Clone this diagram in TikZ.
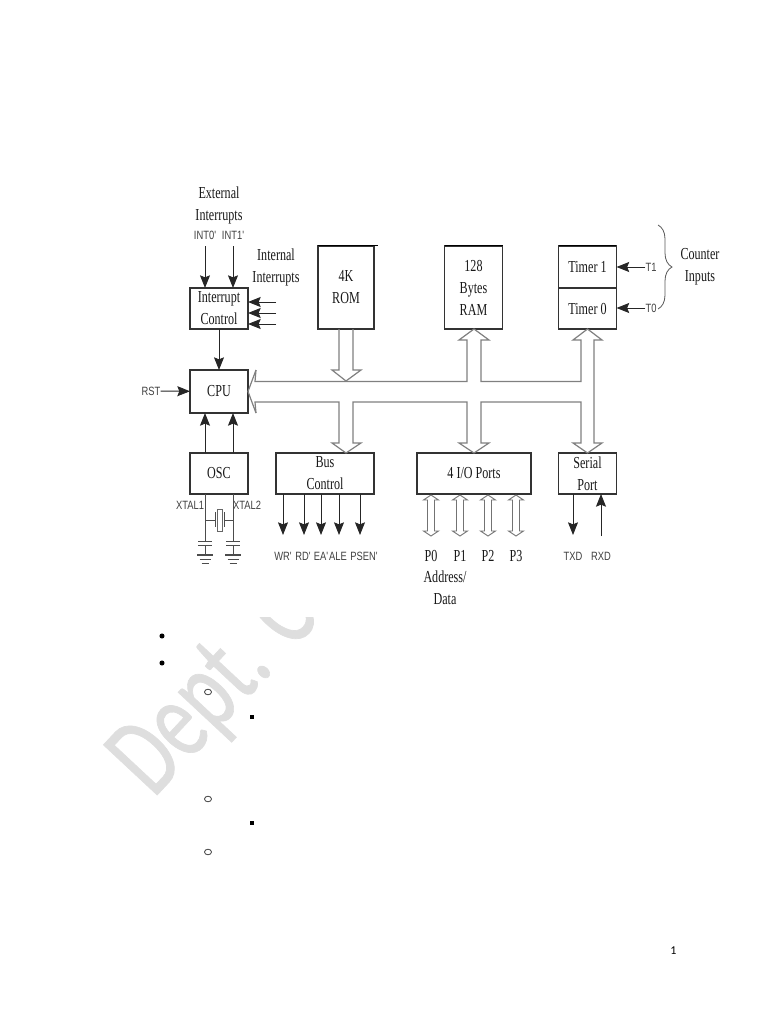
\documentclass[tikz,border=0pt]{standalone}
\usepackage{fontspec}
\setmainfont{Liberation Serif}[FakeStretch=0.72]
\newfontfamily\sigfont{Liberation Sans}[FakeStretch=0.78]
\newfontfamily\wmfont{Carlito}
\newfontfamily\markfont{Carlito}[FakeStretch=0.7,FakeBold=0.6]
\usetikzlibrary{arrows.meta,positioning,decorations.pathreplacing,calc}

\begin{document}
\begin{tikzpicture}[
  x=0.75pt, y=-0.75pt,
  block/.style={draw=black!80, line width=0.9pt, inner sep=0pt, outer sep=0pt, align=center, text=black!90,
    font=\fontsize{12.6}{16.5}\selectfont, minimum width=43.5pt},
  lbl/.style={font=\fontsize{12.6}{16.5}\selectfont, text=black!90, align=center, inner sep=0pt},
  sig/.style={font=\sigfont\fontsize{9}{10}\selectfont, text=black!75, inner sep=0pt},
  arrow/.style={-{Stealth[length=9.5pt,width=7.5pt,inset=1.5pt]}, line width=0.7pt, black!85},
  bus/.style={line width=0.9pt, black!50, line join=miter},
  port/.style={line width=0.7pt, black!55},
  elec/.style={line width=0.6pt, black!70}
]
\useasboundingbox (0,0) rectangle (768,1024);
% watermark, the diagram's white ground lies over it
\node[rotate=47, font=\markfont\fontsize{86}{90}\selectfont, text=black!13, anchor=south west, inner sep=0pt] (mark) at (167,812) {Dept. C};
\fill[white] (100,100) rectangle (700,617);
% left column
\node[block, minimum height=30.75pt] (irq) at (219,308.5) {Interrupt\\Control};
\node[block, minimum height=32.25pt, below=30.75pt of irq] (cpu) {CPU};
\node[block, minimum height=30.75pt, below=30pt of cpu] (osc) {OSC};
% memory and timers
\node[block, minimum width=42pt, minimum height=62.25pt] (rom) at (346,287.5) {4K\\ROM};
\node[block, minimum height=62.25pt] (ram) at (473.5,287.5) {128\\Bytes\\RAM};
\node[block, minimum height=31.5pt] (timer1) at (587.5,267) {Timer 1};
\node[block, minimum height=30.75pt, below=0pt of timer1] (timer0) {Timer 0};
% lower row
\node[block, minimum width=73.5pt, minimum height=30.75pt] (busctl) at (325,473.5) {Bus\\Control};
\node[block, minimum width=85.5pt, minimum height=30.75pt] (ports) at (474,473.5) {4 I/O Ports};
\node[block, minimum height=30.75pt] (serial) at (587.5,473.5) {Serial\\Port};
% heavy top edges
\draw[line width=1.2pt, black] (318,245.5) -- (378,245.5);
\draw[line width=1.2pt, black] (445,245.5) -- (503,245.5);
\draw[line width=1.2pt, black] (559,245.5) -- (616,245.5);
% texts
\node[lbl] (ext) at (219,205) {External\\Interrupts};
\node[lbl] (int) at (276,267.5) {Internal\\Interrupts};
\node[sig] (int0) at (205,235) {INT0'};
\node[sig] (int1) at (233,235) {INT1'};
\node[sig] (rst) at (151,391) {RST};
\node[sig] (xtal1) at (190,505) {XTAL1};
\node[sig] (xtal2) at (247,505) {XTAL2};
\node[sig] (t1) at (651,267) {T1};
\node[sig] (t0) at (651,308) {T0};
\node[lbl] (cnt) at (700,267) {Counter\\Inputs};
% interrupts
\draw[arrow] (205,246) -- (205,288);
\draw[arrow] (233,246) -- (233,288);
\foreach \y in {302,313,324}
  \draw[arrow] (276,\y) -- (248,\y);
\draw[arrow] (irq) -- (cpu);
\draw[arrow] (rst) -- (cpu);
\draw[arrow] (205,453) -- (205,413);
\draw[arrow] (233,453) -- (233,413);
% timer inputs
\draw[arrow] (t1) -- (timer1.east |- t1);
\draw[arrow] (t0) -- (timer0.east |- t0);
\draw[decorate, decoration={brace, amplitude=10.5pt}, line width=0.6pt, black!65] (658,225) -- (658,309);
% bus band
\draw[bus] (256,370) -- (248,391.5) -- (256,413);
\draw[bus] (256,370) -- (255,381.5) -- (467,381.5) -- (467,340) -- (459,340) -- (474,329) -- (489,340) -- (481,340) -- (481,381.5) -- (581,381.5) -- (581,340) -- (573,340) -- (587.5,329) -- (602,340) -- (594,340) -- (594,443) -- (602,443) -- (587.5,453) -- (573,443) -- (581,443) -- (581,402) -- (481,402) -- (481,443) -- (489,443) -- (474,453) -- (459,443) -- (467,443) -- (467,402) -- (353,402) -- (353,443) -- (361,443) -- (346,453) -- (332,443) -- (339,443) -- (339,402) -- (255,402) -- (256,413);
% rom into bus
\draw[bus] (339,329) -- (339,370) -- (332,370) -- (346,381) -- (361,370) -- (353,370) -- (353,329);
% crystal and ground
\draw[elec] (205,494) -- (205,541) (233,494) -- (233,541);
\draw[elec] (205,520) -- (215,520) (224,520) -- (233,520);
\draw[elec] (215,512) -- (215,527) (224,512) -- (224,527);
\draw[elec, draw=black!60] (217.5,509) rectangle (222,531);
\foreach \x in {205,233} {
  \draw[elec] (\x-7,541) -- (\x+7,541) (\x-7,545) -- (\x+7,545) (\x,545) -- (\x,555);
  \draw[elec, line width=0.9pt] (\x-8,555) -- (\x+8,555) (\x-5.5,559.5) -- (\x+5.5,559.5) (\x-3.5,563.5) -- (\x+3.5,563.5);
}
% bus control outputs
\foreach \x in {283,304,321,339,360}
  \draw[arrow] (\x,494) -- (\x,535);
\node[sig] (wr) at (283,556) {WR'};
\node[sig] (rd) at (303,556) {RD'};
\node[sig] (ea) at (321,556) {EA'};
\node[sig] (ale) at (338,556) {ALE};
\node[sig] (psen) at (364,556) {PSEN'};
% ports
\foreach \x/\t in {431/P0,460/P1,488/P2,516/P3} {
  \draw[port] (\x,495) -- (\x+7.5,500) -- (\x+3.5,500) -- (\x+3.5,531) -- (\x+7.5,531) -- (\x,536) -- (\x-7.5,531) -- (\x-3.5,531) -- (\x-3.5,500) -- (\x-7.5,500) -- cycle;
  \node[lbl] (\t) at (\x,556) {\t};
}
\node[lbl] (addr) at (445,587.5) {Address/\\Data};
% serial
\draw[arrow] (573,494) -- (573,535);
\draw[arrow] (601,536) -- (601,494);
\node[sig] (txd) at (573,556) {TXD};
\node[sig] (rxd) at (601,556) {RXD};
% bullets
\foreach \x/\y in {162/636,162/663}
  \fill (\x,\y) circle (1.9pt);
\foreach \y in {692,799,852}
  \draw[black!75, line width=0.6pt] (208,\y) ellipse (2.6pt and 2.1pt);
\foreach \y in {717,823}
  \fill (250,\y-2) rectangle (254,\y+2);
\node[font=\wmfont\fontsize{9}{10}\selectfont, inner sep=0pt] (pageno) at (673.5,951) {1};
\end{tikzpicture}
\end{document}
